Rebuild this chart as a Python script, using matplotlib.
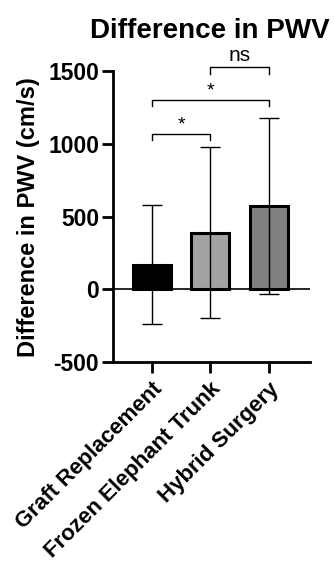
import matplotlib
matplotlib.use("Agg")
import matplotlib.pyplot as plt

categories = ["Graft Replacement", "Frozen Elephant Trunk", "Hybrid Surgery"]
means = [170, 390, 575]
sds = [410, 590, 605]
colors = ["#000000", "#a3a3a3", "#808080"]
yticks = [-500, 0, 500, 1000, 1500]
# significance: (i, j, y, label)
sig_pairs = [(0, 1, 1070, "*"), (0, 2, 1305, "*"), (1, 2, 1530, "ns")]

plt.rcParams['font.family'] = ['Liberation Sans', 'DejaVu Sans']

fig = plt.figure(figsize=(3.34, 5.62), dpi=100)
ax = fig.add_axes([0.338, 0.356, 0.59, 0.517])

x = list(range(len(categories)))
ax.bar(x, means, width=0.65, color=colors, edgecolor="black", linewidth=2.2, zorder=2)
ax.errorbar(x, means, yerr=sds, fmt="none", ecolor="black", elinewidth=1.0,
            capsize=7, capthick=1.0, zorder=3)
ax.axhline(0, color="black", linewidth=1.2, zorder=1)

ax.set_xlim(-0.665, 2.70)
ax.set_ylim(-500, 1500)
ax.set_yticks(yticks)
ax.set_yticklabels([str(v) for v in yticks], fontsize=16.5, fontweight="bold")
ax.set_xticks(x)
ax.set_xticklabels(categories, rotation=45, ha="right", rotation_mode="anchor",
                   fontsize=16, fontweight="bold")
for s in ["top", "right"]:
    ax.spines[s].set_visible(False)
for s in ["left", "bottom"]:
    ax.spines[s].set_linewidth(2.0)
ax.tick_params(axis="y", width=2.0, length=8, pad=2)
ax.tick_params(axis="x", width=2.0, length=8, pad=4)
ax.set_ylabel("Difference in PWV (cm/s)", fontsize=17, fontweight="bold", labelpad=6)
ax.set_title("Difference in PWV", fontsize=20, fontweight="bold", pad=24, x=0.49)

for i, j, y, lab in sig_pairs:
    h = 45
    ax.plot([i, i, j, j], [y - h, y, y, y - h], color="black", linewidth=1.0, clip_on=False)
    if lab == "*":
        ax.text((i + j) / 2, y + 5, lab, ha="center", va="bottom", fontsize=14)
    else:
        ax.text((i + j) / 2, y + 15, lab, ha="center", va="bottom", fontsize=15)

fig.savefig("out.png", dpi=100)
